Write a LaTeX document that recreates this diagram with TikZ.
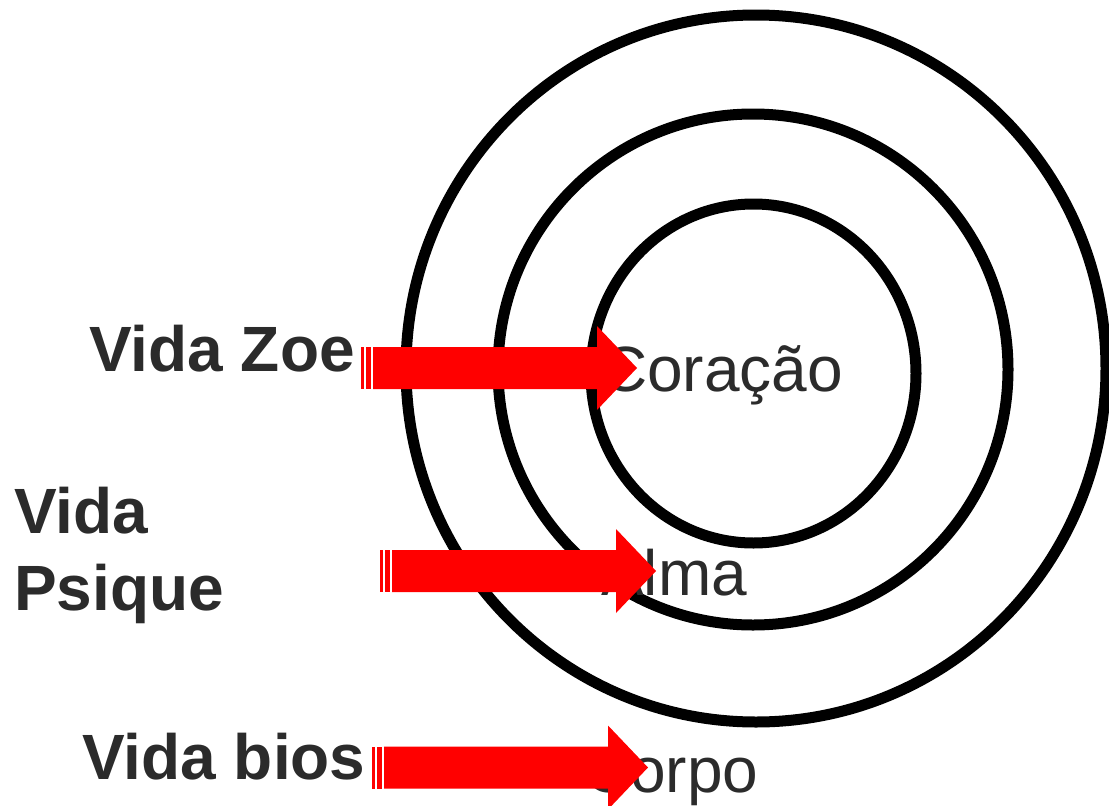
\documentclass[tikz,border=0pt]{standalone}
\usepackage{fontspec}
\setmainfont{Liberation Sans}
\definecolor{ink}{RGB}{43,43,43}
\definecolor{arrowRed}{RGB}{255,0,0}
\tikzset{
	ring/.style = {draw = black, line width = 11pt},
	lifelabel/.style = {font = \fontsize{64}{77}\selectfont\bfseries, text = ink, inner sep = 0pt, anchor = base west, align = left},
	partlabel/.style = {font = \fontsize{64}{77}\selectfont, text = ink, inner sep = 0pt, anchor = base west},
	redarrow/.pic = {
		\fill [arrowRed] (0, -21) rectangle (3, 21);
		\fill [arrowRed] (4.5, -21) rectangle (10, 21);
		\fill [arrowRed] (12, -21) -- (236, -21) -- (236, -42) -- (276, 0) -- (236, 42) -- (236, 21) -- (12, 21) -- cycle;
	}
}

\begin{document}
\begin{tikzpicture}[x = 1pt, y = -1pt]
		\useasboundingbox (0, 0) rectangle (1109, 806);
		%%%%%%%%%%%%%
		\draw [ring] (756, 368.5) ellipse [x radius = 350, y radius = 353.5];
		\draw [ring] (753, 369.5) ellipse [x radius = 255, y radius = 255.5];
		\draw [ring] (753.5, 373.5) ellipse [x radius = 162.5, y radius = 169.5];
		%%%%%%%%%%%%%
		\node [lifelabel] (zoe) at (89, 371) {Vida Zoe};
		\node [lifelabel] (psique) at (14, 610) {Vida\\Psique};
		\node [lifelabel] (bios) at (82, 779) {Vida bios};
		\node [partlabel] (coracao) at (601, 391) {Coração};
		\node [partlabel] (alma) at (601, 595) {Alma};
		\node [partlabel] (corpo) at (584, 792) {Corpo};
		%%%%%%%%%%%%%
		\coordinate (zoeIn) at (361, 368);
		\coordinate (psiqueIn) at (380, 571);
		\coordinate (biosIn) at (372, 767.5);
		\pic at (zoeIn) {redarrow};
		\pic at (psiqueIn) {redarrow};
		\pic at (biosIn) {redarrow};
\end{tikzpicture}
\end{document}
